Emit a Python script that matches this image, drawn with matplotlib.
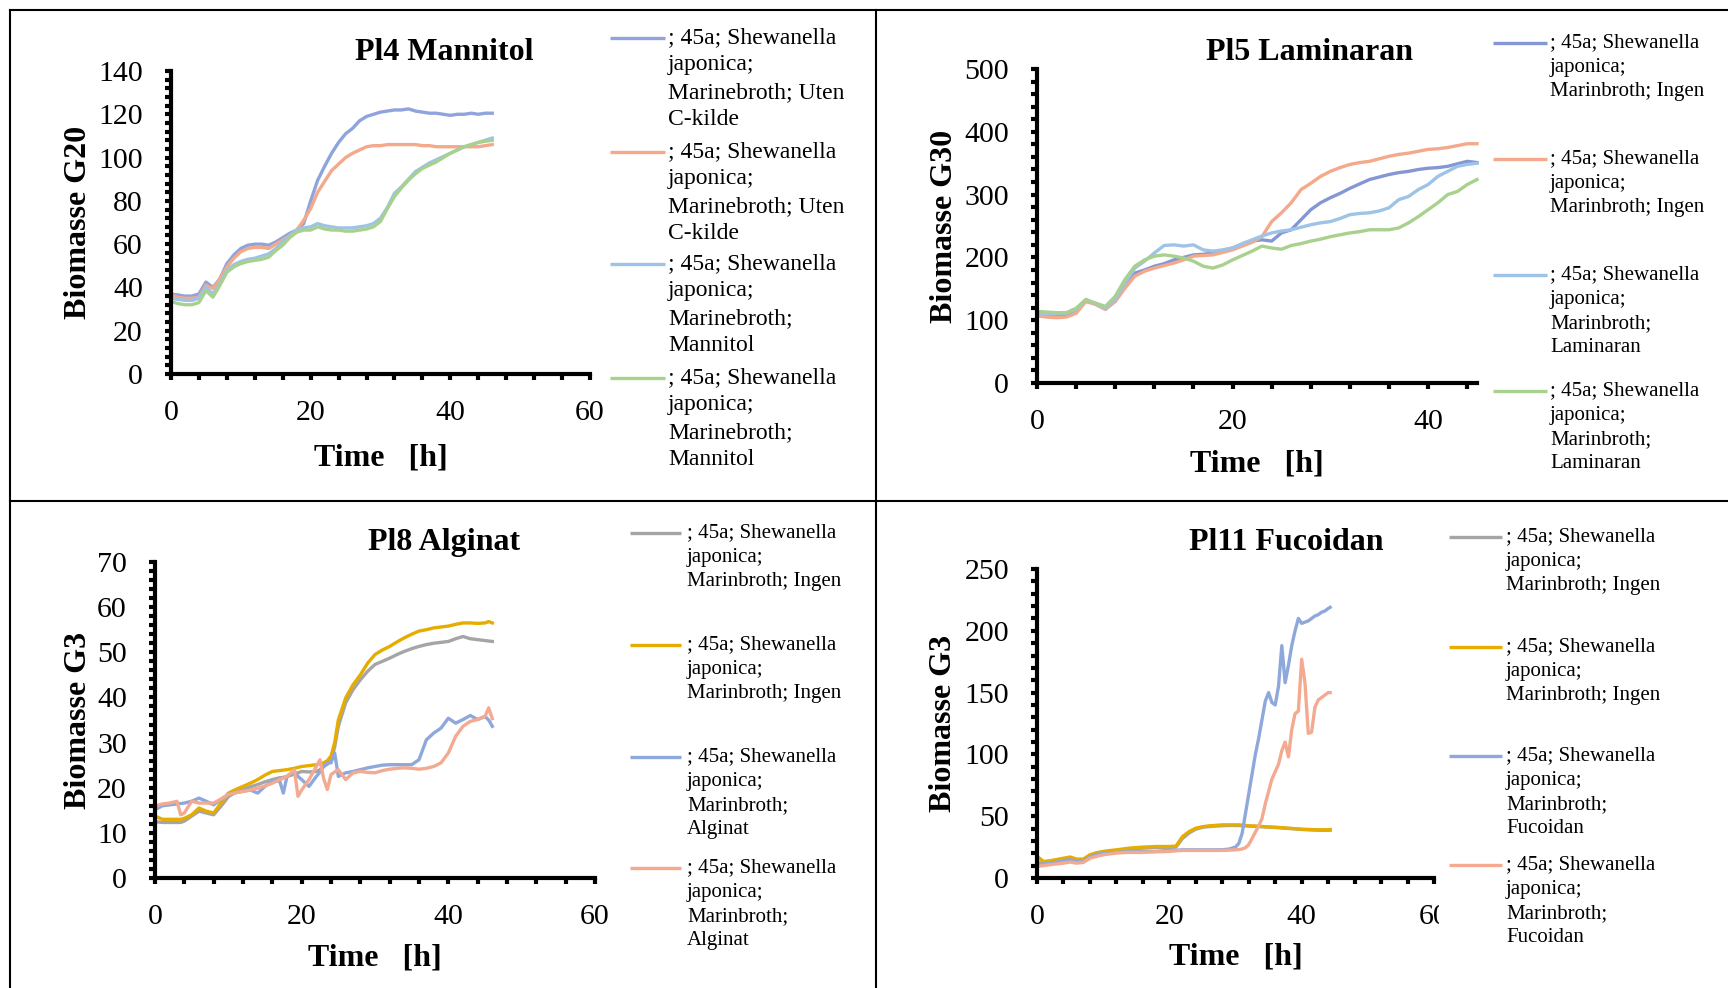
import matplotlib
matplotlib.use("Agg")
import matplotlib.pyplot as plt
from matplotlib.lines import Line2D
from matplotlib.ticker import MultipleLocator
from matplotlib.transforms import Bbox

plt.rcParams['font.family'] = ['Liberation Serif', 'DejaVu Serif']

# ---------------- data ----------------
time_label = "Time   [h]"

# Pl4 Mannitol
mannitol_time = list(range(0, 47))
mannitol_uten_1 = [37, 36.5, 36, 36, 37, 42.5, 40, 44, 51, 55, 58, 59.5, 60, 60, 59.5, 61, 63, 65, 66.5, 69.5,
                   80, 89.5, 96, 102, 107, 111, 113.5, 117, 119, 120, 121, 121.5, 122, 122, 122.5, 121.5, 121,
                   120.5, 120.5, 120, 119.5, 120, 120, 120.5, 120, 120.5, 120.5]
mannitol_uten_2 = [36.5, 35.5, 35, 35, 35.5, 41, 39.5, 44, 49.5, 53.5, 56.5, 58, 58.5, 58.5, 58, 60, 62, 64, 66.5,
                   71, 76.5, 84, 89, 94, 97, 100, 102, 103.5, 105, 105.5, 105.5, 106, 106, 106, 106, 106, 105.5,
                   105.5, 105, 105, 105, 105, 105, 105, 105, 105.5, 106]
mannitol_mannitol_1 = [35, 34.5, 34, 34, 35, 40, 37, 42, 48, 50.5, 52, 53, 53.5, 54.5, 55.5, 58, 61, 64, 66.5,
                       67.5, 68, 69.5, 68.5, 68, 67.5, 67.5, 67.5, 68, 68.5, 69.5, 72, 77, 83.5, 86.5, 90, 93.5,
                       95.5, 97.5, 99, 100.5, 102, 103.5, 105, 106, 107, 108, 109]
mannitol_mannitol_2 = [33.5, 32.5, 32, 32, 33, 38.5, 35.5, 41, 47, 49.5, 51, 52, 52.5, 53, 54, 57, 59.5, 63,
                       65.5, 66.5, 66.5, 68, 67, 66.5, 66.5, 66, 66, 66.5, 67, 68, 70.5, 76.5, 82, 86, 89.5,
                       92.5, 95, 96.5, 98, 100, 102, 103.5, 105, 106, 107, 107.5, 108]
mannitol_labels = ["; 45a; Shewanella\njaponica;\nMarinebroth; Uten\nC-kilde",
                   "; 45a; Shewanella\njaponica;\nMarinebroth; Uten\nC-kilde",
                   "; 45a; Shewanella\njaponica;\nMarinebroth;\nMannitol",
                   "; 45a; Shewanella\njaponica;\nMarinebroth;\nMannitol"]

# Pl5 Laminaran
laminaran_time = list(range(0, 46))
laminaran_ingen_1 = [109, 108, 107, 108, 117, 130, 127, 119, 130, 154, 175, 180, 186, 190, 196, 200, 204, 205,
                     207, 211, 215, 220, 226, 228, 226, 239, 244, 260, 276, 287, 295, 302, 310, 317, 324, 328,
                     332, 335, 337, 340, 342, 343, 345, 349, 353, 351]
laminaran_ingen_2 = [107, 105, 104, 105, 111, 130, 125, 117, 130, 151, 170, 178, 183, 187, 191, 196, 202, 203,
                     204, 208, 212, 218, 224, 233, 257, 271, 287, 308, 318, 329, 337, 343, 348, 351, 353, 357,
                     361, 364, 366, 369, 372, 373, 375, 378, 381, 381]
laminaran_lam_1 = [111, 110, 110, 111, 117, 133, 126, 119, 133, 159, 183, 194, 207, 219, 220, 218, 220, 212,
                   210, 212, 215, 222, 228, 234, 239, 242, 244, 248, 252, 255, 257, 262, 268, 270, 271, 274, 279,
                   292, 297, 308, 316, 329, 337, 345, 348, 350]
laminaran_lam_2 = [114, 113, 112, 112, 119, 133, 127, 122, 138, 165, 186, 196, 202, 204, 202, 199, 194, 186,
                   183, 188, 196, 203, 210, 218, 215, 213, 219, 222, 226, 229, 233, 236, 239, 241, 244, 244, 244,
                   247, 255, 265, 276, 287, 300, 305, 316, 324]
laminaran_labels = ["; 45a; Shewanella\njaponica;\nMarinbroth; Ingen",
                    "; 45a; Shewanella\njaponica;\nMarinbroth; Ingen",
                    "; 45a; Shewanella\njaponica;\nMarinbroth;\nLaminaran",
                    "; 45a; Shewanella\njaponica;\nMarinbroth;\nLaminaran"]

# Pl8 Alginat
alginat_time = [0, 1, 2, 3, 3.5, 4, 5, 6, 7, 8, 9, 10, 11, 12, 13, 14, 15, 16, 17, 17.5, 18, 19, 19.5, 20, 21,
                22, 22.5, 23, 23.5, 24, 24.5, 25, 26, 27, 28, 29, 30, 31, 32, 33, 34, 35, 36, 37, 38, 39, 40,
                41, 42, 43, 44, 45, 45.5, 46]
alginat_ingen_1 = [12.5, 12.3, 12.3, 12.3, 12.3, 12.6, 13.7, 14.8, 14.4, 14.0, 15.9, 18, 19, 19.6, 20.2, 20.7,
                   21.3, 21.8, 22.2, 22.3, 22.5, 23, 23.3, 23.6, 23.5, 23.6, 24, 24.7, 25.2, 26.2, 29, 33.6,
                   38.8, 41.7, 43.9, 45.8, 47.3, 48, 48.7, 49.5, 50.2, 50.8, 51.3, 51.7, 52, 52.2, 52.4, 53,
                   53.5, 53, 52.8, 52.6, 52.5, 52.4]
alginat_ingen_2 = [13.7, 13, 13, 13, 13, 13.2, 14, 15.5, 14.8, 14.4, 16.6, 18.8, 19.6, 20.3, 21, 21.8, 22.8,
                   23.6, 23.8, 23.9, 24, 24.3, 24.5, 24.7, 24.9, 25.1, 25.3, 25.5, 26, 27, 30, 35, 39.9, 42.8,
                   45, 47.6, 49.5, 50.5, 51.3, 52.3, 53.2, 54, 54.7, 55, 55.4, 55.6, 55.8, 56.2, 56.5, 56.5,
                   56.4, 56.5, 56.8, 56.5]
alginat_alg_1 = [15.1, 16, 16.2, 16.4, 16.5, 16.6, 17, 17.7, 17, 16.2, 17.4, 18.5, 18.9, 19.2, 19.5, 18.8, 20.3,
                 21.4, 21.5, 18.8, 22.5, 23.6, 22.5, 21.8, 20.3, 22.5, 23.5, 24.7, 25.5, 25.5, 27.7, 22.5, 23.3,
                 23.6, 24, 24.4, 24.7, 25, 25.1, 25.1, 25.1, 25.1, 26.2, 30.6, 32.1, 33.2, 35.4, 34.3, 35.1, 36,
                 35.1, 35.8, 35, 33.6]
alginat_alg_2 = [15.9, 16.4, 16.6, 17, 14, 14.4, 17, 16.6, 16.6, 16.6, 17.5, 18.5, 18.9, 19.2, 19.5, 19.9, 20.4,
                 21, 21.8, 22.1, 22.5, 24, 18.1, 19.5, 21.8, 24.7, 26.2, 22, 19.6, 22.9, 23.5, 24, 21.8, 23.3,
                 23.6, 23.4, 23.3, 23.8, 24.1, 24.3, 24.4, 24.3, 24.1, 24.3, 24.7, 25.5, 27.7, 31.4, 33.6, 34.7,
                 35.1, 35.8, 37.7, 35.3]
alginat_labels = ["; 45a; Shewanella\njaponica;\nMarinbroth; Ingen",
                  "; 45a; Shewanella\njaponica;\nMarinbroth; Ingen",
                  "; 45a; Shewanella\njaponica;\nMarinbroth;\nAlginat",
                  "; 45a; Shewanella\njaponica;\nMarinbroth;\nAlginat"]

# Pl11 Fucoidan
fucoidan_time = list(range(0, 31)) + [30.5 + 0.5 * k for k in range(28)] + [44.3]
fucoidan_ingen_1 = [12.5, 12, 12.8, 14, 15.2, 16.2, 14.6, 14.6, 18, 19.8, 20.8, 21.5, 22.2, 22.8, 23.4, 23.8,
                    24.2, 24.5, 24.7, 24.8, 24.8, 25, 32, 36.5, 39.5, 41, 41.6, 42, 42.3, 42.5, 42.5,
                    42.4, 42.3, 42.2, 42, 41.9, 41.8, 41.6, 41.5, 41.3, 41.2, 41, 40.9, 40.7, 40.5, 40.3, 40.1,
                    39.9, 39.7, 39.5, 39.3, 39.1, 39, 38.9, 38.8, 38.7, 38.6, 38.6, 38.6, 38.7]
fucoidan_ingen_2 = [17.5, 13.4, 14, 15, 16, 17, 15.3, 15.3, 18.8, 20.5, 21.5, 22.2, 22.8, 23.5, 24.2, 24.6, 25,
                    25.2, 25.5, 25.5, 25.5, 25.8, 33.6, 37.6, 40.3, 41.5, 42.2, 42.6, 43, 43, 43,
                    43, 42.8, 42.6, 42.2, 42.1, 42, 41.8, 41.7, 41.5, 41.3, 41.2, 41.1, 40.9, 40.7, 40.5, 40.3,
                    40.1, 39.9, 39.7, 39.5, 39.4, 39.3, 39.2, 39, 39, 39, 39, 39, 39.2]
fucoidan_fuc_1 = [10.8, 11.4, 12, 13, 14, 14.8, 13.4, 13.4, 17, 19, 20.2, 20.5, 20.7, 21, 21.5, 21.5, 21.5, 21.5,
                  21.5, 22, 22.3, 22.5, 22.8, 22.8, 22.8, 22.8, 22.8, 22.8, 22.8, 23.4, 25,
                  28, 36, 52, 68, 84, 100, 113, 128, 143, 150, 142, 140, 155, 188, 158, 172, 188, 200, 210,
                  206, 207, 208, 210, 212, 213, 215, 216, 218, 219]
fucoidan_fuc_2 = [9.4, 10, 10.8, 11.4, 12, 12.9, 12, 12.6, 16, 17.5, 18.8, 19.5, 20.2, 20.5, 20.7, 20.7, 20.7, 21,
                  21.2, 21.3, 21.5, 22, 22.3, 22.3, 22.3, 22.3, 22.3, 22.3, 22.3, 22.5, 22.8,
                  23, 23.5, 24.5, 27, 32, 37, 42, 48, 60, 70, 80, 86, 92, 103, 110, 98, 120, 133, 135, 177,
                  158, 117, 118, 138, 144, 146, 148, 150, 150]
fucoidan_labels = ["; 45a; Shewanella\njaponica;\nMarinbroth; Ingen",
                   "; 45a; Shewanella\njaponica;\nMarinbroth; Ingen",
                   "; 45a; Shewanella\njaponica;\nMarinbroth;\nFucoidan",
                   "; 45a; Shewanella\njaponica;\nMarinbroth;\nFucoidan"]

# ---------------- layout ----------------
W, H, DPI = 1728, 988, 100
fig = plt.figure(figsize=(W / DPI, H / DPI), dpi=DPI)
PX = 72.0 / DPI  # points per pixel


def fx(px):
    return px / W


def fy(py):
    return 1 - py / H


panels = [
    dict(title="Pl4 Mannitol", ylabel="Biomasse G20", time=mannitol_time,
         series=[mannitol_uten_1, mannitol_uten_2, mannitol_mannitol_1, mannitol_mannitol_2],
         labels=mannitol_labels, colors=["#8FA3DC", "#F4A98A", "#9DC3E6", "#A9D18E"],
         box=(171, 590, 374, 71), xlim=(0, 60), ylim=(0, 140), ymaj=20, ymin=4,
         title_pos=(444, 60), ylab_x=86, xlab_y=465,
         leg_x=(610, 665, 668), leg_y=[38, 152, 264, 378], leg_fs=17, leg_ls=27),
    dict(title="Pl5 Laminaran", ylabel="Biomasse G30", time=laminaran_time,
         series=[laminaran_ingen_1, laminaran_ingen_2, laminaran_lam_1, laminaran_lam_2],
         labels=laminaran_labels, colors=["#8497D4", "#F4A98A", "#9DC3E6", "#A9D18E"],
         box=(1037, 1477, 383, 69), xlim=(0, 45), ylim=(0, 500), ymaj=100, ymin=20,
         title_pos=(1309, 60), ylab_x=952, xlab_y=472,
         leg_x=(1493, 1547, 1550), leg_y=[43, 159, 275, 391], leg_fs=15, leg_ls=23.5),
    dict(title="Pl8 Alginat", ylabel="Biomasse G3", time=alginat_time,
         series=[alginat_ingen_1, alginat_ingen_2, alginat_alg_1, alginat_alg_2],
         labels=alginat_labels, colors=["#A5A5A5", "#E6AC00", "#8FA8DC", "#F4AA90"],
         box=(155, 595, 878, 562), xlim=(0, 60), ylim=(0, 70), ymaj=10, ymin=2,
         title_pos=(444, 550), ylab_x=86, xlab_y=965,
         leg_x=(630, 681, 687), leg_y=[533, 645, 757, 868], leg_fs=15, leg_ls=23.5),
    dict(title="Pl11 Fucoidan", ylabel="Biomasse G3", time=fucoidan_time,
         series=[fucoidan_ingen_1, fucoidan_ingen_2, fucoidan_fuc_1, fucoidan_fuc_2],
         labels=fucoidan_labels, colors=["#A5A5A5", "#E6AC00", "#8FA8DC", "#F4AA90"],
         box=(1037, 1434, 878, 569), xlim=(0, 60), ylim=(0, 250), ymaj=50, ymin=10,
         title_pos=(1286, 550), ylab_x=951, xlab_y=964,
         leg_x=(1449, 1502, 1506), leg_y=[537, 647, 756, 865], leg_fs=15, leg_ls=23.5,
         clip_right=1439),
]

LW = 2.4
LINE_UNIT = 0.82  # baseline step of one line, in em, at linespacing 1
axes = []
for p in panels:
    left, right, bottom, top = p["box"]
    ax = fig.add_axes([fx(left), fy(bottom), (right - left) / W, (bottom - top) / H])
    axes.append(ax)
    for vals, col in zip(p["series"], p["colors"]):
        ax.plot(p["time"], vals, color=col, lw=LW, solid_joinstyle="round", clip_on=False)
    ax.set_xlim(*p["xlim"])
    ax.set_ylim(*p["ylim"])
    ax.xaxis.set_major_locator(MultipleLocator(20))
    ax.xaxis.set_minor_locator(MultipleLocator(4))
    ax.yaxis.set_major_locator(MultipleLocator(p["ymaj"]))
    ax.yaxis.set_minor_locator(MultipleLocator(p["ymin"]))
    for s in ("top", "right"):
        ax.spines[s].set_visible(False)
    for s in ("left", "bottom"):
        ax.spines[s].set_linewidth(3)
        ax.spines[s].set_capstyle("projecting")
    ax.tick_params(which="both", direction="out", length=6 * PX, width=3, color="black")
    ax.tick_params(axis="x", which="major", labelsize=21.5, pad=20 * PX)
    ax.tick_params(axis="y", which="major", labelsize=21.5, pad=22 * PX)
    ax.patch.set_visible(False)

    # title
    tx, ty = p["title_pos"]
    ax.set_title(p["title"], x=(tx - left) / (right - left), y=(bottom - ty) / (bottom - top),
                 pad=0, fontsize=23, fontweight="bold")
    # axis labels
    ax.set_xlabel(time_label, fontsize=23, fontweight="bold")
    ax.xaxis.set_label_coords(0.5, (bottom - p["xlab_y"]) / (bottom - top))
    ax.xaxis.label.set_verticalalignment("baseline")
    ax.set_ylabel(p["ylabel"], fontsize=23, fontweight="bold")
    ax.yaxis.set_label_coords((p["ylab_x"] - left) / (right - left), 0.5)
    ax.yaxis.label.set_verticalalignment("baseline")

    # legend entries beside the plot
    lx0, lx1, ltx = p["leg_x"]
    fs = p["leg_fs"]
    em = fs / PX
    for ly, lab, col in zip(p["leg_y"], p["labels"], p["colors"]):
        fig.add_artist(Line2D([fx(lx0), fx(lx1)], [fy(ly), fy(ly)], transform=fig.transFigure,
                              color=col, lw=LW, solid_capstyle="butt"))
        first_baseline = ly + 0.36 * em
        fig.text(fx(ltx), fy(first_baseline - LINE_UNIT * em), lab, fontsize=fs, va="top", ha="left",
                 linespacing=p["leg_ls"] / (LINE_UNIT * em))

# frame around the four charts
frame = [((10, 10), (10, H)), ((10, W), (10, 10)), ((876, 876), (10, H)), ((10, W), (501, 501))]
for xs, ys in frame:
    fig.add_artist(Line2D([fx(x) for x in xs], [fy(y) for y in ys], transform=fig.transFigure,
                          color="black", lw=1.5))

# the last panel's tick labels are cut at the chart edge
fig.canvas.draw()
clip = Bbox.from_extents(0, 0, panels[3]["clip_right"], H)
for t in axes[3].xaxis.get_major_ticks():
    t.label1.set_clip_box(clip)
    t.label1.set_clip_on(True)

fig.savefig("out.png", dpi=DPI)
